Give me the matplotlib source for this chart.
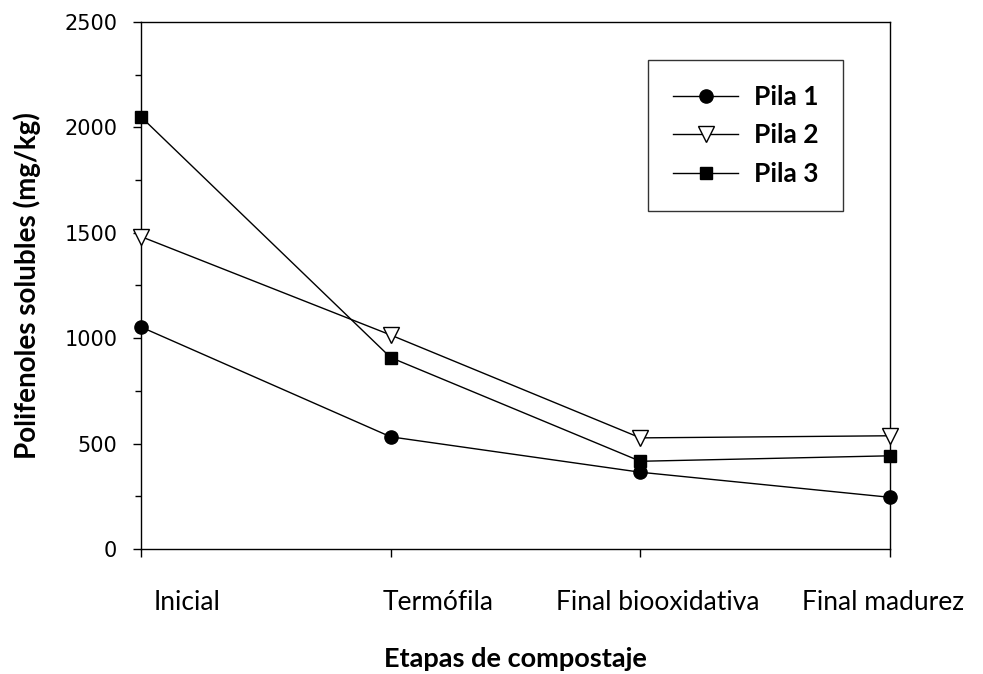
import matplotlib
matplotlib.use('Agg')
import matplotlib.pyplot as plt
from matplotlib.ticker import MultipleLocator

# data
etapas = ['Inicial', 'Termófila', 'Final biooxidativa', 'Final madurez']
pila1 = [1053, 532, 364, 245]
pila2 = [1482, 1015, 527, 537]
pila3 = [2050, 908, 416, 442]

fig = plt.figure(figsize=(9.83, 6.74), dpi=100)
ax = fig.add_axes([0.1434, 0.1855, 0.7621, 0.7819])

x = list(range(len(etapas)))
ax.plot(x, pila1, '-', color='black', lw=1.0, marker='o', ms=9.5,
        mfc='black', mec='black', label='Pila 1', clip_on=False, zorder=3)
ax.plot(x, pila2, '-', color='black', lw=1.0, marker='v', ms=11,
        mfc='white', mec='black', mew=1.0, label='Pila 2', clip_on=False, zorder=3)
ax.plot(x, pila3, '-', color='black', lw=1.0, marker='s', ms=9,
        mfc='black', mec='black', label='Pila 3', clip_on=False, zorder=3)

ax.set_xlim(0, 3)
ax.set_ylim(0, 2500)
ax.yaxis.set_major_locator(MultipleLocator(500))
ax.yaxis.set_minor_locator(MultipleLocator(250))
ax.set_xticks(x)
ax.set_xticklabels([])
ax.tick_params(axis='y', which='major', direction='out', length=6, width=1, labelsize=15, pad=11)
ax.tick_params(axis='y', which='minor', direction='out', length=4, width=1)
ax.tick_params(axis='x', direction='out', length=6, width=1)
for s in ax.spines.values():
    s.set_linewidth(1.0)

# category labels, placed like the original (not centred on the ticks)
offs = [46, 47, 17, -7]
for i, lab in enumerate(etapas):
    ax.annotate(lab, xy=(i, 0), xycoords=('data', 'axes fraction'),
                xytext=(offs[i] * 0.72, -54 * 0.72), textcoords='offset points',
                ha='center', va='center', fontsize=19, family='Lato')

ax.set_ylabel('Polifenoles solubles (mg/kg)', fontsize=20, fontweight='bold',
              family='Lato')
ax.yaxis.set_label_coords(-0.133, 0.5)
fig.text(0.524, 0.022, 'Etapas de compostaje', ha='center', va='center',
         fontsize=19.5, fontweight='bold', family='Lato')

leg = ax.legend(loc='upper left', bbox_to_anchor=(0.677, 0.928), borderaxespad=0,
                frameon=True, fancybox=False, edgecolor='black', borderpad=0.95,
                handlelength=2.45, handletextpad=0.6, labelspacing=0.55,
                prop={'family': 'Lato', 'weight': 'bold', 'size': 19})
leg.get_frame().set_linewidth(1.0)

fig.savefig('out.png', dpi=100)
